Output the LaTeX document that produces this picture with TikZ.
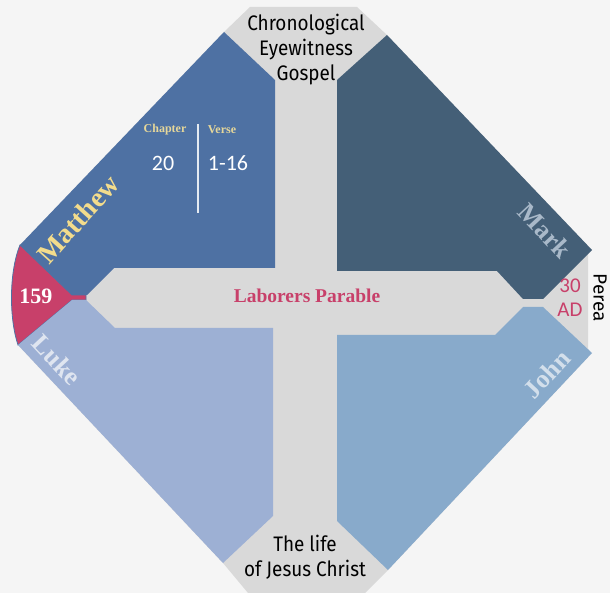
\documentclass[tikz,border=0pt]{standalone}
\usepackage{fontspec}
\setmainfont{Liberation Serif}
\newfontfamily\condsans[FakeStretch=0.9]{Fira Sans}
\newfontfamily\plainsans{Fira Sans}
\newfontfamily\numsans{Carlito}
\definecolor{bgc}{HTML}{F5F5F5}
\definecolor{crossc}{HTML}{D9D9D9}
\definecolor{mattc}{HTML}{4E71A3}
\definecolor{markc}{HTML}{445F77}
\definecolor{lukec}{HTML}{9DB0D4}
\definecolor{johnc}{HTML}{88AACB}
\definecolor{redc}{HTML}{C8406A}
\definecolor{yelc}{HTML}{F3DC8C}
\definecolor{markt}{HTML}{A9B9C9}
\definecolor{luket}{HTML}{DFE5F0}
\definecolor{johnt}{HTML}{D3DFEB}
\definecolor{chapc}{HTML}{E6D79A}
\tikzset{
  gospel/.style={font=\fontsize{28}{28}\selectfont\bfseries, inner sep=0pt},
  caption/.style={font=\condsans\fontsize{21}{25}\selectfont, align=center, inner sep=0pt, text=black},
  small/.style={font=\fontsize{12}{12}\selectfont\bfseries, text=chapc, inner sep=0pt},
  num/.style={font=\numsans\fontsize{22}{22}\selectfont, text=white, inner sep=0pt},
}
\begin{document}
\begin{tikzpicture}[x=1pt,y=-1pt]
\useasboundingbox (0,0) rectangle (610,593);
\fill[bgc] (0,0) rectangle (610,593);
% gray cross
\fill[crossc] (250,7) -- (357,7) -- (387,35) -- (588,246) -- (588,357) -- (388,570) -- (365,593) -- (248,593) -- (223,563) -- (18,345) -- (20,245) -- (224,32) -- cycle;
% red wedge
\fill[redc, draw=mattc, line width=0.8pt] (20,245) -- (72,295) -- (86,295) -- (86,300) -- (72,300) -- (18,345) .. controls (9,318) and (9,272) .. (20,245) -- cycle;
% panels
\fill[mattc] (224,32) -- (275,80) -- (275,268) -- (114,268) -- (87,295) -- (72,295) -- (20,245) -- cycle;
\fill[lukec] (72,300) -- (86,300) -- (115,328) -- (273,328) -- (273,516) -- (223,563) -- (18,345) -- cycle;
\fill[markc] (387,35) -- (337,80) -- (337,271) -- (497,271) -- (523,299) -- (543,299) -- (592,250) -- cycle;
\fill[johnc] (337,335) -- (495,335) -- (523,307) -- (543,307) -- (592,353) -- (388,570) -- (337,521) -- cycle;
% texts
\node[caption] (top) at (306,50) {Chronological\\Eyewitness\\Gospel};
\node[caption] (bottom) at (305,557) {The life\\of Jesus Christ};
\node[font=\fontsize{19.5}{19.5}\selectfont\bfseries, text=redc, inner sep=0pt] (parable) at (307,296) {Laborers Parable};
\node[gospel, text=yelc, rotate=48] (matthew) at (78,219) {Matthew};
\node[gospel, text=markt, rotate=-47, font=\fontsize{26}{26}\selectfont\bfseries] (mark) at (545,231) {Mark};
\node[gospel, text=luket, rotate=-47, font=\fontsize{26}{26}\selectfont\bfseries] (luke) at (57,360) {Luke};
\node[gospel, text=johnt, rotate=47, font=\fontsize{26}{26}\selectfont\bfseries] (john) at (547,374) {John};
\node[small] (chapter) at (165,130) {Chapter};
\node[small] (verse) at (222,130) {Verse};
\node[num] (chapnum) at (163,163) {20};
\node[num] (versenum) at (228,163) {1-16};
\draw[white!85!mattc, line width=1.2pt] (198,124) coordinate (ltop) -- (198,213) coordinate (lbot);
\node[font=\fontsize{22}{22}\selectfont\bfseries, text=white, inner sep=0pt] (count) at (36,296) {159};
\node[font=\numsans\fontsize{21}{24}\selectfont, text=redc, align=center, inner sep=0pt] (year) at (570,298) {30\\AD};
\node[font=\plainsans\fontsize{19}{19}\selectfont, rotate=-90, inner sep=0pt] (place) at (600,298) {Perea};
\end{tikzpicture}
\end{document}
